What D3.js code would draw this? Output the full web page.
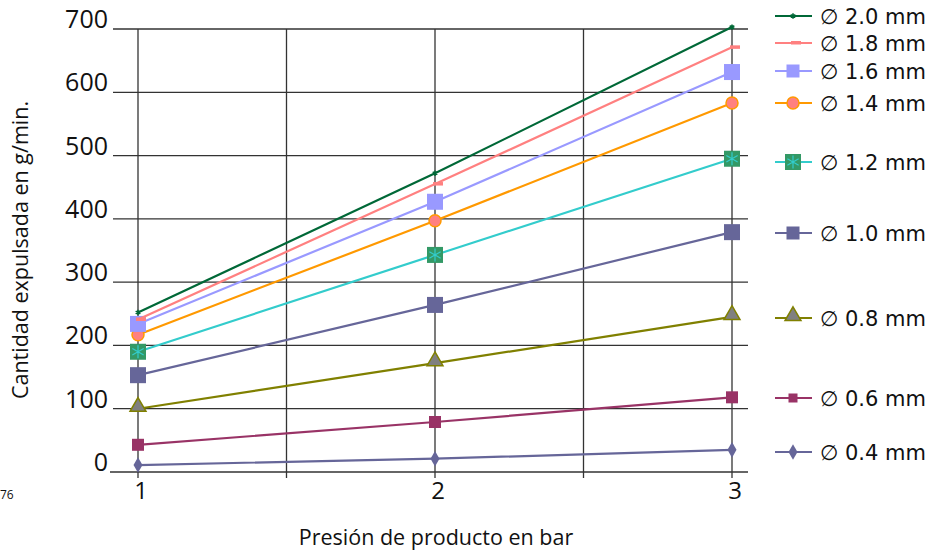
<!DOCTYPE html>
<html>
<head>
<meta charset="utf-8">
<script src="https://cdn.jsdelivr.net/npm/d3@7"></script>
<style>
  body { margin: 0; background: #fff; }
  text { font-family: "Open Sans", "DejaVu Sans", sans-serif; fill: #111; }
  text.leg { font-family: "DejaVu Sans", sans-serif; }
</style>
</head>
<body>
<div id="chart"></div>
<script>
// data
const pressures = [1, 2, 3];
const labels = ['2.0 mm', '1.8 mm', '1.6 mm', '1.4 mm', '1.2 mm', '1.0 mm', '0.8 mm', '0.6 mm', '0.4 mm'];
const d20 = [252, 472, 703];
const d18 = [241, 455, 671];
const d16 = [234, 427, 632];
const d14 = [217, 397, 583];
const d12 = [190, 343, 495];
const d10 = [153, 264, 379];
const d08 = [100, 172, 245];
const d06 = [43, 79, 118];
const d04 = [11, 21, 35];
const yTicks = [0, 100, 200, 300, 400, 500, 600, 700];
const xGrid = [1, 1.5, 2, 2.5, 3];
const xTicks = [1, 2, 3];

const width = 939, height = 554;

const series = [
  { name: labels[0], values: d20, color: '#006837', marker: 'star', legendY: 16 },
  { name: labels[1], values: d18, color: '#ff8080', marker: 'dash', legendY: 43 },
  { name: labels[2], values: d16, color: '#9999ff', marker: 'square', size: 16, fill: '#9999ff', legendY: 71 },
  { name: labels[3], values: d14, color: '#ff9900', marker: 'circle', fill: '#ff8080', legendY: 103 },
  { name: labels[4], values: d12, color: '#33cccc', marker: 'xsquare', fill: '#339966', legendY: 162 },
  { name: labels[5], values: d10, color: '#666699', marker: 'square', size: 16, fill: '#666699', legendY: 233 },
  { name: labels[6], values: d08, color: '#808000', marker: 'triangle', fill: '#808080', legendY: 318 },
  { name: labels[7], values: d06, color: '#993366', marker: 'square', size: 12, fill: '#993366', legendY: 398 },
  { name: labels[8], values: d04, color: '#666699', marker: 'diamond', fill: '#666699', legendY: 452 }
];

const svg = d3.select('#chart').append('svg')
  .attr('width', width)
  .attr('height', height)

const x = d3.scaleLinear().domain([1, 3]).range([138, 732])
const y = d3.scaleLinear().domain([0, 700]).range([472, 29])

// grid
const grid = svg.append('g').attr('stroke', '#333').attr('stroke-width', 1.3)
grid.selectAll('.hg').data(yTicks).enter().append('line')
  .attr('x1', (d) => d === 0 ? 110 : 113)
  .attr('x2', 748)
  .attr('y1', (d) => y(d))
  .attr('y2', (d) => y(d))
grid.selectAll('.vg').data(xGrid).enter().append('line')
  .attr('x1', (d) => x(d))
  .attr('x2', (d) => x(d))
  .attr('y1', y(700))
  .attr('y2', y(0) + 6)

// tick labels
svg.append('g').selectAll('text').data(yTicks).enter().append('text')
  .attr('x', 108)
  .attr('y', (d) => y(d) - 1)
  .attr('text-anchor', 'end')
  .style('font-size', '25px')
  .text((d) => d)

svg.append('g').selectAll('text').data(xTicks).enter().append('text')
  .attr('x', (d) => x(d) + 3)
  .attr('y', 499)
  .attr('text-anchor', 'middle')
  .style('font-size', '24px')
  .text((d) => d)

svg.append('text').attr('x', 0).attr('y', 499).style('font-size', '12px').text('76')

svg.append('text')
  .attr('x', 436).attr('y', 545)
  .attr('text-anchor', 'middle')
  .style('font-size', '21.5px')
  .text('Presión de producto en bar')

svg.append('text')
  .attr('transform', 'translate(28,250) rotate(-90)')
  .attr('text-anchor', 'middle')
  .style('font-size', '21.5px')
  .text('Cantidad expulsada en g/min.')

// markers
const drawMarker = (g, s, cx, cy) => {
  const m = g.append('g').attr('transform', 'translate(' + cx + ',' + cy + ')')
  if (s.marker === 'square') {
    m.append('rect').attr('x', -s.size / 2).attr('y', -s.size / 2)
      .attr('width', s.size).attr('height', s.size).attr('fill', s.fill)
  } else if (s.marker === 'circle') {
    m.append('circle').attr('r', 6).attr('fill', s.fill).attr('stroke', s.color).attr('stroke-width', 1.5)
  } else if (s.marker === 'xsquare') {
    m.append('rect').attr('x', -8).attr('y', -8).attr('width', 16).attr('height', 16).attr('fill', s.fill)
    m.append('path').attr('d', d3.symbol(d3.symbolAsterisk, 120)()).attr('fill', 'none')
      .attr('stroke', s.color).attr('stroke-width', 1.2)
  } else if (s.marker === 'triangle') {
    m.append('path').attr('d', d3.symbol(d3.symbolTriangle, 110)()).attr('transform', 'translate(0,-2)')
      .attr('fill', s.fill).attr('stroke', s.color).attr('stroke-width', 1.5)
  } else if (s.marker === 'diamond') {
    m.append('path').attr('d', d3.symbol(d3.symbolDiamond, 70)()).attr('fill', s.fill)
  } else if (s.marker === 'star') {
    m.append('path').attr('d', d3.symbol(d3.symbolAsterisk, 20)()).attr('fill', 'none')
      .attr('stroke', s.color).attr('stroke-width', 1.5)
  } else if (s.marker === 'dash') {
    m.append('rect').attr('x', -2).attr('y', -2).attr('width', 10).attr('height', 3.5).attr('fill', s.color)
  }
}

const line = d3.line().x((d) => x(d[0])).y((d) => y(d[1]))

const plot = svg.append('g')
series.slice().reverse().forEach((s) => {
  const pts = pressures.map((p, i) => [p, s.values[i]])
  plot.append('path').datum(pts)
    .attr('d', line)
    .attr('fill', 'none')
    .attr('stroke', s.color)
    .attr('stroke-width', 2.2)
  pts.forEach((p) => drawMarker(plot, s, x(p[0]), y(p[1])))
})

// legend
const legend = svg.append('g')
series.forEach((s) => {
  legend.append('line')
    .attr('x1', 775).attr('x2', 812)
    .attr('y1', s.legendY).attr('y2', s.legendY)
    .attr('stroke', s.color).attr('stroke-width', 2.2)
  drawMarker(legend, Object.assign({}, s, { size: s.size ? s.size - 3 : s.size }), 793, s.legendY)
  legend.append('text')
    .attr('class', 'leg')
    .attr('x', 820).attr('y', s.legendY + 8)
    .style('font-size', '21px')
    .text('\u2205 ' + s.name)
})
</script>
</body>
</html>
